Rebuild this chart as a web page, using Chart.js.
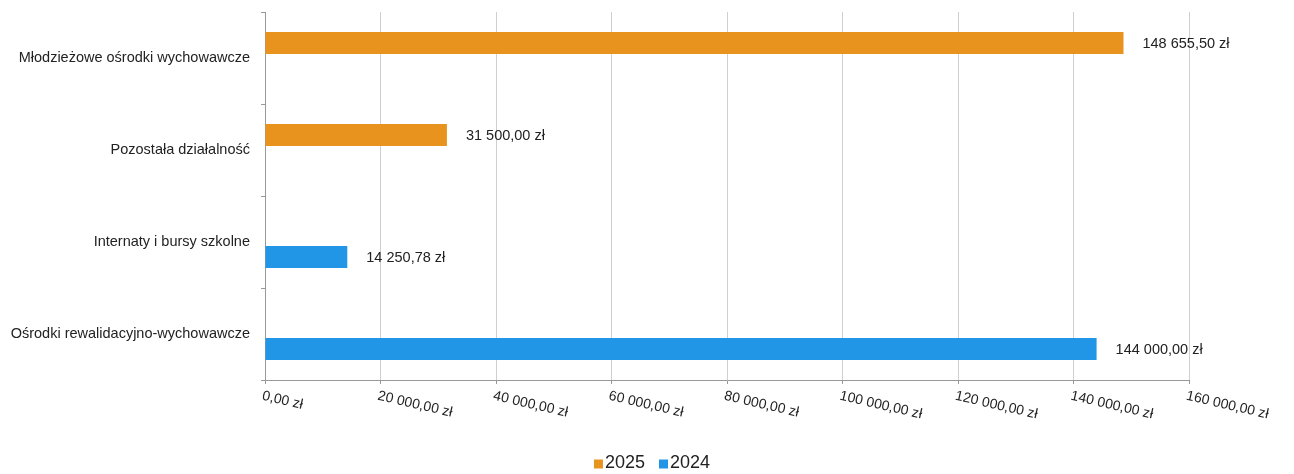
<!DOCTYPE html>
<html>
<head>
<meta charset="utf-8">
<script src="https://cdn.jsdelivr.net/npm/chart.js@4/dist/chart.umd.min.js"></script>
<style>
  html, body { margin: 0; padding: 0; background: #fff; }
  #wrap { width: 1294px; height: 474px; }
</style>
</head>
<body>
<div id="wrap"><canvas id="chart"></canvas></div>
<script>
const categories = ['Młodzieżowe ośrodki wychowawcze', 'Pozostała działalność', 'Internaty i bursy szkolne', 'Ośrodki rewalidacyjno-wychowawcze'];
const values2025 = [148655.50, 31500.00, null, null];
const values2024 = [null, null, 14250.78, 144000.00];
const xTicks = [0, 20000, 40000, 60000, 80000, 100000, 120000, 140000, 160000];

const FONT = '"Liberation Sans", Arial, sans-serif';

function zl(v) {
  const parts = v.toFixed(2).split('.');
  const int = parts[0].replace(/\B(?=(\d{3})+(?!\d))/g, ' ');
  return int + ',' + parts[1] + ' zł';
}

// value labels next to bars, rotated x tick labels, small legend
const extras = {
  id: 'extras',
  afterDatasetsDraw(chart) {
    const ctx = chart.ctx;
    ctx.save();
    ctx.font = '14.5px ' + FONT;
    ctx.fillStyle = '#222';
    ctx.textBaseline = 'middle';
    ctx.textAlign = 'left';
    chart.data.datasets.forEach((ds, i) => {
      chart.getDatasetMeta(i).data.forEach((bar, j) => {
        if (ds.data[j] == null) return;
        ctx.fillText(zl(ds.data[j]), bar.x + 19, bar.y + 1);
      });
    });

    const x = chart.scales.x;
    ctx.font = '14px ' + FONT;
    ctx.textBaseline = 'top';
    xTicks.forEach(t => {
      const px = x.getPixelForValue(t);
      ctx.save();
      ctx.translate(px - 1, x.top + 9);
      ctx.rotate(13 * Math.PI / 180);
      ctx.fillText(zl(t), 0, 0);
      ctx.restore();
    });

    // legend
    ctx.font = '18px ' + FONT;
    ctx.textBaseline = 'middle';
    const items = chart.data.datasets.map(ds => ({ text: ds.label, color: ds.backgroundColor, w: ctx.measureText(ds.label).width }));
    const box = 9, gap = 2, between = 14;
    let total = items.reduce((s, it) => s + box + gap + it.w, 0) + between * (items.length - 1);
    let lx = chart.width / 2 + 5 - total / 2;
    const ly = 463;
    items.forEach(it => {
      ctx.fillStyle = it.color;
      ctx.fillRect(lx, ly - box / 2 + 1, box, box);
      lx += box + gap;
      ctx.fillStyle = '#222';
      ctx.fillText(it.text, lx, ly);
      lx += it.w + between;
    });
    ctx.restore();
  }
};

new Chart(document.getElementById('chart'), {
  type: 'bar',
  data: {
    labels: categories,
    datasets: [
      { label: '2025', data: values2025, backgroundColor: '#E8931E', borderColor: '#E8931E' },
      { label: '2024', data: values2024, backgroundColor: '#2196E6', borderColor: '#2196E6' }
    ]
  },
  options: {
    indexAxis: 'y',
    responsive: true,
    maintainAspectRatio: false,
    animation: false,
    categoryPercentage: 0.65,
    barPercentage: 0.74,
    layout: { padding: { top: 12, right: 105, left: 0, bottom: 34 } },
    scales: {
      x: {
        min: 0,
        max: 160000,
        ticks: { display: false, stepSize: 20000 },
        grid: { color: '#cfcfcf', tickLength: 4, tickColor: '#999' },
        border: { color: '#999' },
        afterFit: s => { s.height = 60; s.paddingLeft = 0; s.paddingRight = 0; }
      },
      y: {
        ticks: {
          color: '#222',
          padding: 11,
          font: { size: 14.5, family: FONT }
        },
        grid: { drawOnChartArea: false, tickLength: 4, tickColor: '#999', offset: true },
        border: { color: '#999' },
        afterFit: s => { s.width = 265; s.paddingTop = 0; s.paddingBottom = 0; }
      }
    },
    plugins: {
      legend: { display: false },
      tooltip: { enabled: false }
    }
  },
  plugins: [extras]
});
</script>
</body>
</html>
